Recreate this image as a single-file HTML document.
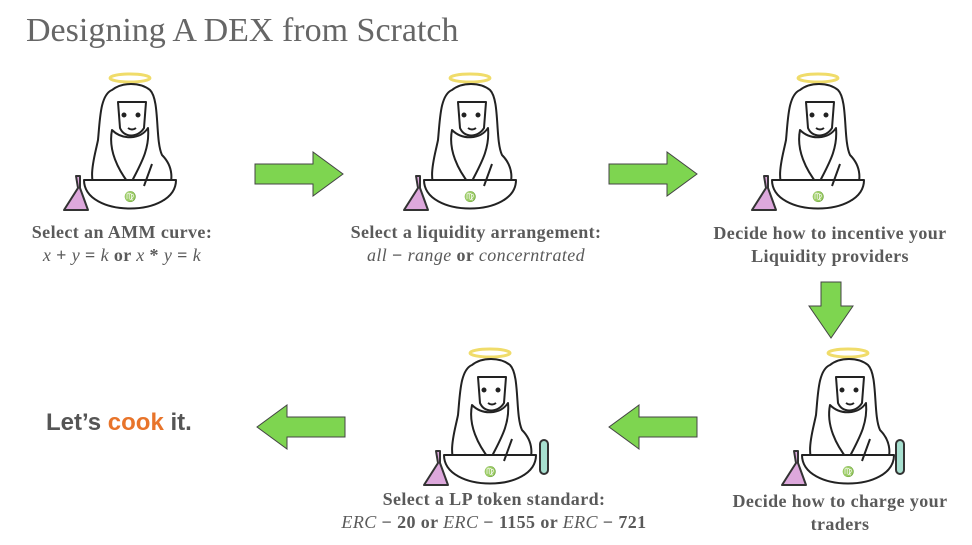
<!DOCTYPE html>
<html><head><meta charset="utf-8"><style>
body{margin:0;background:#fff;width:972px;height:545px;position:relative;overflow:hidden;font-family:"Liberation Serif",serif;color:#555}
.t{position:absolute;font-size:34px;left:26px;top:12px;color:#666;font-family:"Liberation Serif",serif}
.l{position:absolute;text-align:center;font-weight:bold;font-size:18px;letter-spacing:0.4px;line-height:23px;color:#5a5a5a;width:360px}
.l i{font-weight:normal;font-style:italic}
svg{position:absolute;left:0;top:0}
</style></head><body>
<div class="t">Designing A DEX from Scratch</div>
<svg width="972" height="545">
<defs>
<g id="fig" stroke="#222" stroke-width="2" fill="#fff" stroke-linejoin="round">
<ellipse cx="0" cy="-62" rx="20" ry="4" fill="none" stroke="#f0dc6a" stroke-width="3"/>
<path d="M-18,-50 C-30,-45 -30,-20 -32,0 C-36,20 -44,40 -30,60 L34,60 C46,40 42,25 32,15 C25,0 30,-40 20,-50 C10,-58 -8,-58 -18,-50Z"/>
<path d="M-12,-38 L16,-38 L14,-12 C8,-2 -6,-2 -10,-12Z"/>
<path d="M-18,-10 C-22,10 -12,30 0,45 C10,25 20,10 18,-12 C10,0 -8,0 -18,-10Z"/>
<circle cx="-6" cy="-25" r="1.5" fill="#222"/><circle cx="8" cy="-25" r="1.5" fill="#222"/>
<path d="M-2,-12 q4,3 8,0" fill="none"/>
<path d="M-46,40 C-46,78 46,78 46,40 Z"/>
<path d="M14,46 l8,-22" fill="none"/>
<path d="M-52,48 l-14,22 h24 l-8,-22 v-12 h-4 z" fill="#dda8dc" stroke="#333"/>
<text x="-6" y="60" font-size="10" fill="#222" stroke="none" font-family="Liberation Serif">♍</text>
</g>
<g id="ar" fill="#7ed550" stroke="#444" stroke-width="1">
<path d="M0,-10 H58 V-22 L88,0 L58,22 V10 H0Z"/>
</g>
</defs>
<use href="#fig" x="130" y="140"/>
<use href="#fig" x="470" y="140"/>
<use href="#fig" x="818" y="140"/>
<use href="#fig" x="490" y="415"/>
<use href="#fig" x="848" y="415"/>
<rect x="540" y="440" width="8" height="34" rx="4" fill="#a8e0d0" stroke="#333" stroke-width="2"/>
<rect x="896" y="440" width="8" height="34" rx="4" fill="#a8e0d0" stroke="#333" stroke-width="2"/>
<use href="#ar" x="255" y="174"/>
<use href="#ar" x="609" y="174"/>
<path d="M821,282 H841 V306 H853 L831,338 L809,306 H821Z" fill="#7ed550" stroke="#444" stroke-width="1"/>
<use href="#ar" transform="translate(345,427) rotate(180)"/>
<use href="#ar" transform="translate(697,427) rotate(180)"/>
</svg>
<div class="l" style="left:-58px;top:221px">Select an AMM curve:<br><i>x</i> + <i>y</i> = <i>k</i> or <i>x</i> * <i>y</i> = <i>k</i></div>
<div class="l" style="left:296px;top:221px">Select a liquidity arrangement:<br><i>all</i> − <i>range</i> or <i>concerntrated</i></div>
<div class="l" style="left:650px;top:222px">Decide how to incentive your<br>Liquidity providers</div>
<div class="l" style="left:314px;top:488px">Select a LP token standard:<br><i>ERC</i> − 20 or <i>ERC</i> − 1155 or <i>ERC</i> − 721</div>
<div class="l" style="left:660px;top:490px">Decide how to charge your<br>traders</div>
<div style="position:absolute;left:46px;top:409px;font-family:'Liberation Sans',sans-serif;font-weight:bold;font-size:24px;color:#555">Let’s <span style="color:#e8742a">cook</span> it.</div>
</body></html>
